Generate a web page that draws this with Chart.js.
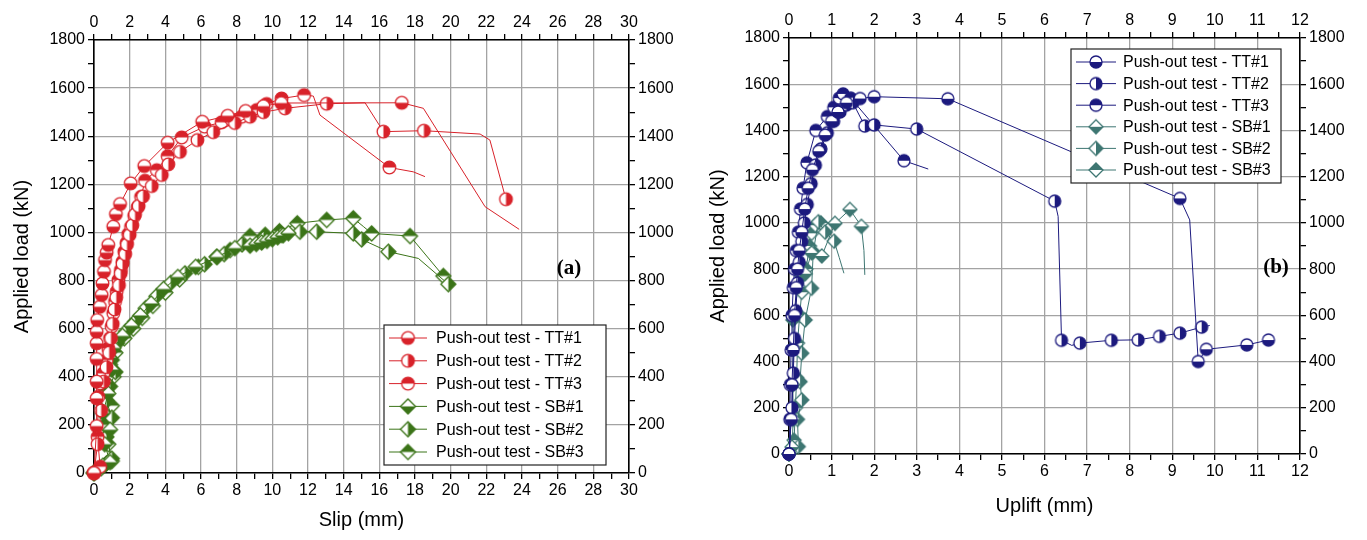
<!DOCTYPE html>
<html lang="en">
<head>
<meta charset="UTF-8">
<title>Push-out tests</title>
<script src="https://cdn.jsdelivr.net/npm/chart.js@4"></script>
<style>
    body { margin: 0; background: #fff; width: 1367px; height: 540px; overflow: hidden; }
    canvas { position: absolute; top: 0; }
    #grafico_a { left: 0; }
    #grafico_b { left: 683px; }
</style>
</head>
<body>
<canvas id="grafico_a" width="683" height="540"></canvas>
<canvas id="grafico_b" width="684" height="540"></canvas>
<script>
// legend labels
var rotulos = ['Push-out test - TT#1', 'Push-out test - TT#2', 'Push-out test - TT#3',
               'Push-out test - SB#1', 'Push-out test - SB#2', 'Push-out test - SB#3'];

// (a) slip (mm) x load (kN)
var slipTT1 = [0, 0.15, 0.15, 0.15, 0.15, 0.15, 0.15, 0.18, 0.33, 0.43, 0.48, 0.56, 0.62, 0.71, 0.8, 1.08, 1.23, 1.46, 2.06, 2.82, 4.13, 6.07, 7.5, 8.5, 9.5, 10.5, 17.26, 18.47, 21.93, 23.84];
var cargaTT1 = [0, 195, 310, 380, 474, 539, 587, 636, 691, 740, 788, 837, 885, 916, 948, 1024, 1076, 1118, 1204, 1276, 1373, 1460, 1485, 1505, 1525, 1538, 1539, 1516, 1107, 1013];
var slipTT2 = [0, 0.2, 0.4, 0.55, 0.7, 0.85, 0.95, 1.05, 1.15, 1.25, 1.4, 1.5, 1.6, 1.75, 1.85, 2.0, 2.15, 2.3, 2.5, 2.75, 3.24, 3.8, 4.17, 4.82, 5.8, 6.69, 7.9, 8.75, 9.5, 10.71, 13.05, 15.2, 16.23, 18.5, 21.65, 22.2, 23.1];
var cargaTT2 = [0, 120, 260, 380, 440, 500, 560, 620, 680, 730, 780, 830, 870, 910, 950, 990, 1030, 1075, 1110, 1150, 1193, 1239, 1283, 1335, 1384, 1417, 1455, 1481, 1500, 1516, 1535, 1539, 1419, 1423, 1409, 1384, 1138];
var slipTT3 = [0, 0.34, 0.2, 0.24, 0.34, 0.52, 0.71, 0.8, 0.9, 0.99, 1.08, 1.18, 1.27, 1.37, 1.51, 1.6, 1.7, 1.83, 1.92, 2.08, 2.26, 2.45, 2.64, 2.86, 3.52, 4.13, 4.92, 6.2, 7.16, 7.72, 8.28, 9.12, 9.68, 10.52, 11.78, 12.3, 12.67, 16.56, 17.9, 18.56];
var cargaTT3 = [0, 26, 150, 317, 373, 414, 470, 518, 560, 608, 664, 712, 754, 802, 844, 878, 920, 957, 993, 1024, 1068, 1105, 1148, 1215, 1259, 1317, 1395, 1440, 1458, 1468, 1481, 1509, 1534, 1557, 1571, 1567, 1488, 1270, 1252, 1232];
var slipSB1 = [0, 0.5, 0.9, 0.6, 0.9, 0.5, 0.8, 0.6, 1.0, 0.85, 1.1, 1.6, 2.1, 2.6, 3.2, 3.9, 4.7, 5.7, 6.9, 7.9, 8.75, 9.1, 9.4, 9.7, 10.0, 10.3, 10.6, 10.9];
var cargaSB1 = [0, 30, 45, 120, 180, 250, 330, 380, 430, 480, 520, 570, 612, 655, 705, 765, 815, 857, 898, 935, 945, 952, 958, 965, 972, 980, 988, 997];
var slipSB2 = [0, 0.7, 1.0, 0.7, 1.0, 0.7, 0.9, 1.2, 1.0, 1.3, 1.8, 2.3, 2.9, 3.5, 4.3, 5.1, 6.2, 7.3, 8.3, 9.5, 10.5, 11.55, 12.49, 14.54, 15.01, 16.51, 18.19, 19.87];
var cargaSB2 = [0, 40, 60, 150, 230, 300, 360, 420, 470, 540, 590, 630, 685, 735, 790, 830, 868, 910, 950, 975, 990, 1003, 1003, 996, 971, 920, 892, 785];
var slipSB3 = [0, 0.4, 1.0, 0.8, 0.6, 1.0, 0.7, 1.1, 0.9, 1.2, 1.7, 2.2, 2.7, 3.3, 4.0, 4.8, 5.85, 6.88, 7.63, 8.75, 9.6, 10.4, 11.4, 13.05, 14.54, 15.1, 15.57, 17.72, 19.59];
var cargaSB3 = [0, 20, 50, 120, 200, 280, 340, 400, 450, 500, 560, 600, 645, 695, 750, 805, 857, 899, 927, 985, 990, 1005, 1038, 1052, 1059, 1025, 996, 985, 819];

// (b) uplift (mm) x load (kN)
var upTT1 = [0, 0.05, 0.07, 0.1, 0.13, 0.17, 0.2, 0.24, 0.3, 0.37, 0.45, 0.55, 0.7, 0.85, 1.0, 1.15, 1.35, 1.67, 2.0, 3.73, 9.18, 9.41, 9.61, 9.8, 10.75, 11.26];
var upCargaTT1 = [0, 150, 300, 450, 600, 720, 800, 880, 960, 1060, 1150, 1230, 1310, 1380, 1440, 1480, 1520, 1538, 1546, 1537, 1106, 1013, 400, 453, 472, 493];
var upTT2 = [0, 0.07, 0.1, 0.13, 0.16, 0.2, 0.24, 0.3, 0.36, 0.43, 0.52, 0.62, 0.75, 0.9, 1.05, 1.2, 1.35, 1.5, 1.78, 2.0, 3.0, 6.24, 6.32, 6.4, 6.64, 6.83, 7.57, 8.2, 8.7, 9.18, 9.69, 9.88];
var upCargaTT2 = [0, 200, 350, 500, 620, 740, 830, 920, 1000, 1080, 1170, 1250, 1320, 1390, 1440, 1480, 1510, 1520, 1419, 1424, 1406, 1094, 1028, 492, 470, 480, 492, 494, 509, 523, 549, 556];
var upTT3 = [0, 0.02, 0.03, 0.05, 0.07, 0.1, 0.13, 0.17, 0.22, 0.27, 0.33, 0.42, 0.63, 0.9, 1.05, 1.18, 1.27, 1.45, 2.7, 3.27];
var upCargaTT3 = [0, 150, 300, 450, 600, 720, 800, 880, 960, 1060, 1150, 1260, 1400, 1460, 1500, 1540, 1558, 1540, 1269, 1233];
var upSB1 = [0, 0.07, 0.1, 0.09, 0.1, 0.09, 0.22, 0.3, 0.38, 0.53, 0.77, 1.08, 1.43, 1.7, 1.76, 1.78];
var upCargaSB1 = [0, 30, 150, 300, 460, 580, 724, 770, 780, 870, 857, 998, 1058, 985, 880, 775];
var upSB2 = [0, 0.22, 0.2, 0.3, 0.26, 0.3, 0.38, 0.53, 0.57, 0.69, 0.85, 1.06, 1.18, 1.29];
var upCargaSB2 = [0, 32, 150, 234, 313, 436, 580, 717, 875, 1005, 960, 921, 850, 782];
var upSB3 = [0, 0.12, 0.15, 0.18, 0.2, 0.25, 0.3, 0.4, 0.48, 0.53, 0.62, 0.75];
var upCargaSB3 = [0, 60, 200, 330, 480, 600, 700, 800, 900, 955, 990, 1000];

// points drawn as line bends only (no symbol), by index
var semMarcaTT1 = [27, 28, 29];
var semMarcaTT2 = [31, 34, 35];
var semMarcaTT3 = [35, 36, 38, 39];
var semMarcaSB2 = [26];
var semMarcaSB3 = [25];
var semMarcaUpTT1 = [21];
var semMarcaUpTT2 = [22, 24, 31];
var semMarcaUpTT3 = [19];
var semMarcaUpSB1 = [14, 15];
var semMarcaUpSB2 = [12, 13];

function pares(xs, ys) {
    return xs.map(function (x, i) { return { x: x, y: ys[i] }; });
}

// half filled markers (Origin style)
function marcador(forma, metade, cor, r) {
    var c = document.createElement('canvas');
    var s = Math.ceil(r * 2 + 4);
    c.width = s; c.height = s;
    var g = c.getContext('2d');
    var m = s / 2;
    function caminho() {
        g.beginPath();
        if (forma == 'circle') {
            g.arc(m, m, r, 0, Math.PI * 2);
        } else {
            g.moveTo(m, m - r); g.lineTo(m + r, m); g.lineTo(m, m + r); g.lineTo(m - r, m); g.closePath();
        }
    }
    caminho(); g.fillStyle = '#fff'; g.fill();
    g.save(); caminho(); g.clip();
    g.fillStyle = cor;
    if (metade == 'bottom') g.fillRect(0, m, s, s);
    if (metade == 'top') g.fillRect(0, 0, s, m);
    if (metade == 'right') g.fillRect(m, 0, s, s);
    g.restore();
    caminho(); g.strokeStyle = cor; g.lineWidth = 1.3; g.stroke();
    return c;
}

function serie(i, xs, ys, cor, forma, metade, r, semMarca) {
    var img = marcador(forma, metade, cor, r);
    var pula = semMarca || [];
    return {
        label: rotulos[i],
        data: pares(xs, ys),
        showLine: true,
        borderColor: cor,
        borderWidth: 1,
        backgroundColor: cor,
        marca: img,
        pointStyle: function (ctx) { return pula.indexOf(ctx.dataIndex) >= 0 ? false : img; },
        tension: 0,
        clip: false
    };
}

function ehMultiplo(v, passo) {
    var q = v / passo;
    return Math.abs(q - Math.round(q)) < 1e-6;
}

function escalaX(pos, max, passo, rotulo, altura, titulo, padTitulo, grade) {
    return {
        type: 'linear', position: pos, min: 0, max: max,
        afterFit: function (s) { s.height = altura; },
        ticks: {
            stepSize: passo, autoSkip: false, maxRotation: 0, padding: 2, color: '#000',
            font: { size: 16 },
            callback: function (v) { return ehMultiplo(v, rotulo) ? Math.round(v) : ''; }
        },
        grid: {
            drawOnChartArea: grade, lineWidth: 1.3, tickLength: 6, tickColor: '#000', tickWidth: 1.3,
            color: function (ctx) { return ctx.tick && ehMultiplo(ctx.tick.value, rotulo) ? '#a3a3a3' : 'rgba(0,0,0,0)'; }
        },
        border: { color: '#000', width: 1.6 },
        title: titulo ? { display: true, text: titulo, color: '#000', font: { size: 20 }, padding: { top: 0, bottom: padTitulo } } : { display: false }
    };
}

function escalaY(pos, largura, titulo, padTitulo, grade) {
    return {
        type: 'linear', position: pos, min: 0, max: 1800,
        afterFit: function (s) { s.width = largura; },
        ticks: {
            stepSize: 100, autoSkip: false, padding: 3, color: '#000',
            font: { size: 16 },
            callback: function (v) { return ehMultiplo(v, 200) ? v : ''; }
        },
        grid: {
            drawOnChartArea: grade, lineWidth: 1.3, tickLength: 6, tickColor: '#000', tickWidth: 1.3,
            color: function (ctx) { return ctx.tick && ehMultiplo(ctx.tick.value, 200) ? '#a3a3a3' : 'rgba(0,0,0,0)'; }
        },
        border: { color: '#000', width: 1.6 },
        title: titulo ? { display: true, text: titulo, color: '#000', font: { size: 20 }, padding: { top: padTitulo, bottom: 0 } } : { display: false }
    };
}

// legend box + panel tag
var legendaPlugin = {
    id: 'legenda',
    afterDraw: function (chart, args, o) {
        var ctx = chart.ctx;
        ctx.save();
        ctx.fillStyle = '#fff';
        ctx.fillRect(o.x, o.y, o.w, o.h);
        ctx.strokeStyle = '#222'; ctx.lineWidth = 1.2;
        ctx.strokeRect(o.x, o.y, o.w, o.h);
        chart.data.datasets.forEach(function (ds, i) {
            var cy = o.y + o.primeira + i * o.passo;
            ctx.strokeStyle = ds.borderColor; ctx.lineWidth = 1;
            ctx.beginPath(); ctx.moveTo(o.x + 5, cy); ctx.lineTo(o.x + 5 + o.linha, cy); ctx.stroke();
            var img = ds.marca;
            ctx.drawImage(img, o.x + 5 + o.linha / 2 - img.width / 2, cy - img.height / 2);
            ctx.fillStyle = '#000';
            ctx.font = '16px "Liberation Sans", Arial, sans-serif';
            ctx.textBaseline = 'middle';
            ctx.fillText(ds.label, o.x + o.texto, cy + 1);
        });
        ctx.font = 'bold 21px "Liberation Serif", "Times New Roman", serif';
        ctx.textAlign = 'center';
        ctx.textBaseline = 'middle';
        ctx.fillStyle = '#000';
        ctx.fillText(o.tag, o.tagX, o.tagY);
        ctx.restore();
    }
};

Chart.defaults.font.family = '"Liberation Sans", Arial, sans-serif';
Chart.defaults.color = '#000';

var vermelho = '#d8222a';
var verde = '#3b7418';
var azul = '#1c1a7e';
var petroleo = '#3e7672';

new Chart('grafico_a', {
    type: 'scatter',
    data: {
        datasets: [
            serie(0, slipTT1, cargaTT1, vermelho, 'circle', 'bottom', 6.3, semMarcaTT1),
            serie(1, slipTT2, cargaTT2, vermelho, 'circle', 'right', 6.3, semMarcaTT2),
            serie(2, slipTT3, cargaTT3, vermelho, 'circle', 'top', 6.3, semMarcaTT3),
            serie(3, slipSB1, cargaSB1, verde, 'diamond', 'bottom', 7.5),
            serie(4, slipSB2, cargaSB2, verde, 'diamond', 'right', 7.5, semMarcaSB2),
            serie(5, slipSB3, cargaSB3, verde, 'diamond', 'top', 7.5, semMarcaSB3)
        ]
    },
    options: {
        responsive: false, animation: false, events: [],
        layout: { padding: 0 },
        scales: {
            x: escalaX('bottom', 30, 1, 2, 67, 'Slip (mm)', 8, true),
            x2: escalaX('top', 30, 1, 2, 40, null, 0, false),
            y: escalaY('left', 94, 'Applied load (kN)', 10, true),
            y2: escalaY('right', 54, null, 0, false)
        },
        plugins: {
            legend: { display: false },
            tooltip: { enabled: false },
            legenda: { x: 384, y: 325, w: 222, h: 140, primeira: 13, passo: 22.8, linha: 38, texto: 52, tag: '(a)', tagX: 569, tagY: 269 }
        }
    },
    plugins: [legendaPlugin]
});

new Chart('grafico_b', {
    type: 'scatter',
    data: {
        datasets: [
            serie(0, upTT1, upCargaTT1, azul, 'circle', 'bottom', 6, semMarcaUpTT1),
            serie(1, upTT2, upCargaTT2, azul, 'circle', 'right', 6, semMarcaUpTT2),
            serie(2, upTT3, upCargaTT3, azul, 'circle', 'top', 6, semMarcaUpTT3),
            serie(3, upSB1, upCargaSB1, petroleo, 'diamond', 'bottom', 7, semMarcaUpSB1),
            serie(4, upSB2, upCargaSB2, petroleo, 'diamond', 'right', 7, semMarcaUpSB2),
            serie(5, upSB3, upCargaSB3, petroleo, 'diamond', 'top', 7)
        ]
    },
    options: {
        responsive: false, animation: false, events: [],
        layout: { padding: 0 },
        scales: {
            x: escalaX('bottom', 12, 0.5, 1, 86, 'Uplift (mm)', 22, true),
            x2: escalaX('top', 12, 0.5, 1, 38, null, 0, false),
            y: escalaY('left', 106, 'Applied load (kN)', 23, true),
            y2: escalaY('right', 67, null, 0, false)
        },
        plugins: {
            legend: { display: false },
            tooltip: { enabled: false },
            legenda: { x: 388, y: 49, w: 210, h: 134, primeira: 13, passo: 21.6, linha: 40, texto: 52, tag: '(b)', tagX: 593, tagY: 268 }
        }
    },
    plugins: [legendaPlugin]
});
</script>
</body>
</html>
